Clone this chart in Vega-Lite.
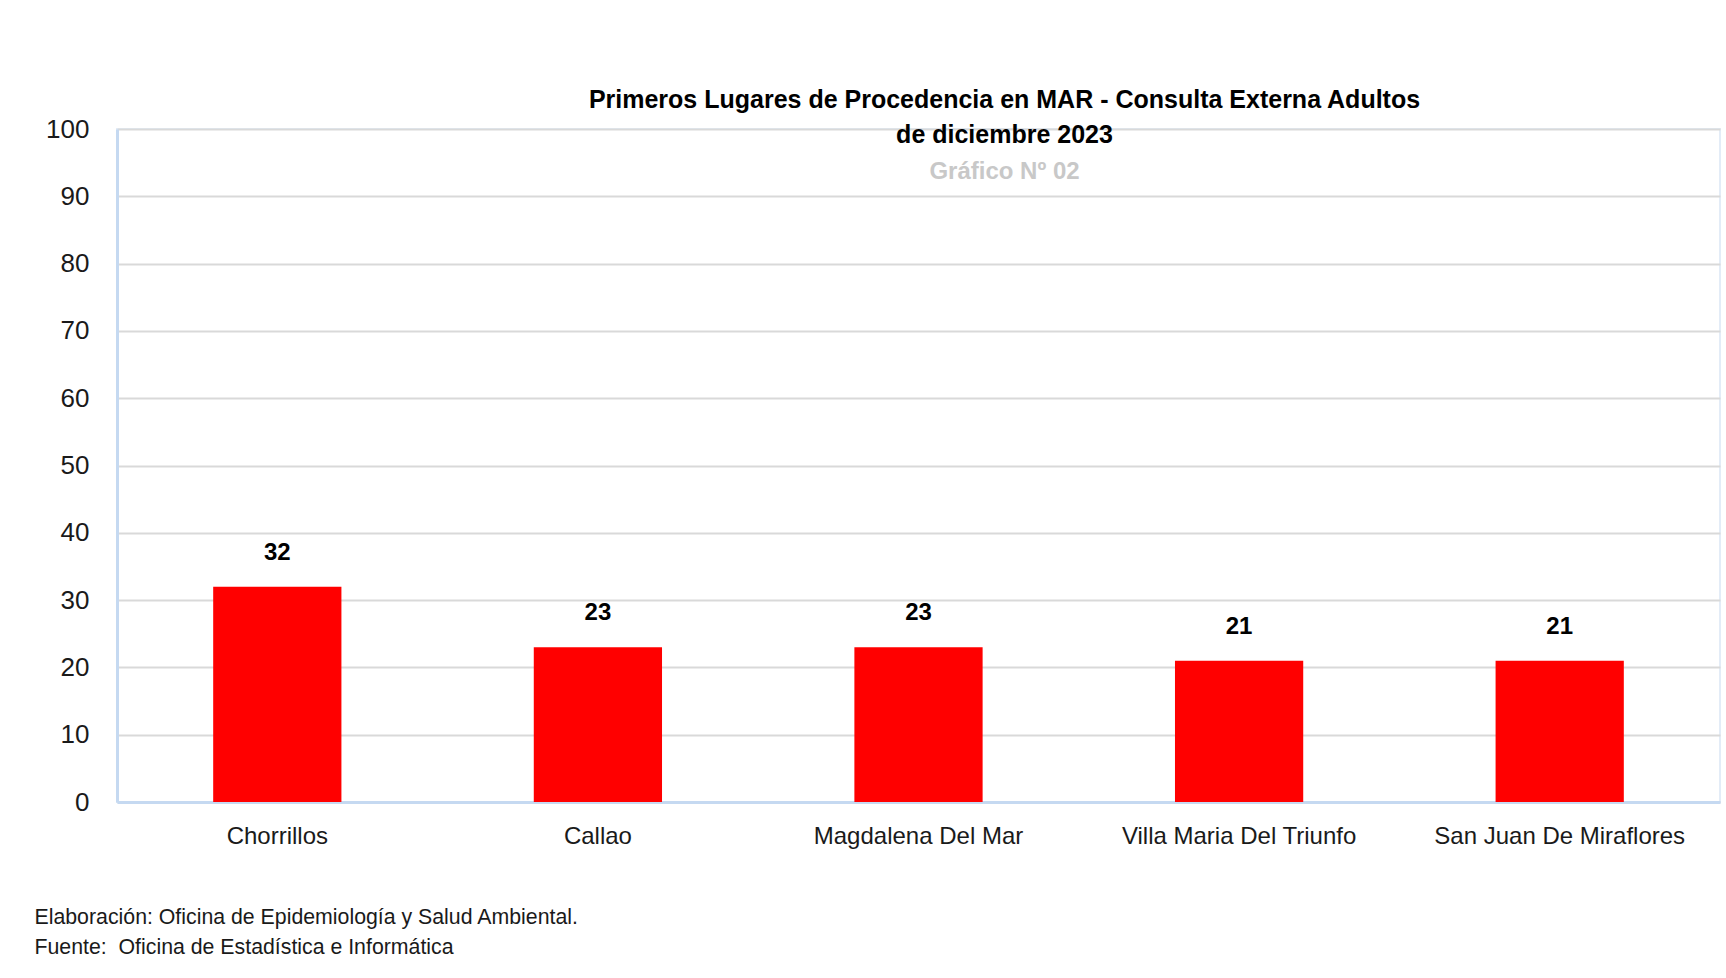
{
  "$schema": "https://vega.github.io/schema/vega-lite/v6.json",
  "width": 1603,
  "height": 673,
  "autosize": {"type": "none"},
  "padding": {"left": 117, "top": 129, "right": 6, "bottom": 176},
  "background": "white",
  "data": {
    "values": [
      {"lugar": "Chorrillos", "valor": 32},
      {"lugar": "Callao", "valor": 23},
      {"lugar": "Magdalena Del Mar", "valor": 23},
      {"lugar": "Villa Maria Del Triunfo", "valor": 21},
      {"lugar": "San Juan De Miraflores", "valor": 21}
    ]
  },
  "title": {
    "text": ["Primeros Lugares de Procedencia en MAR - Consulta Externa Adultos", "de diciembre 2023"],
    "subtitle": "Gráfico Nº 02",
    "anchor": "middle",
    "dx": 86,
    "font": "Liberation Sans",
    "fontSize": 25,
    "fontWeight": "bold",
    "color": "#000000",
    "lineHeight": 35,
    "subtitleFont": "Liberation Sans",
    "subtitleFontSize": 24,
    "subtitleFontWeight": "bold",
    "subtitleColor": "#c8c8c8",
    "subtitlePadding": 12,
    "offset": -68
  },
  "layer": [
    {
      "mark": {"type": "bar", "color": "#ff0000"},
      "encoding": {
        "x": {
          "field": "lugar",
          "type": "nominal",
          "sort": null,
          "scale": {"paddingInner": 0.6, "paddingOuter": 0.3},
          "axis": {
            "labelAngle": 0,
            "labelLimit": 0,
            "labelFont": "Liberation Sans",
            "labelFontSize": 24,
            "labelColor": "#1a1a1a",
            "labelPadding": 22,
            "ticks": false,
            "domainColor": "#c5d9f1",
            "domainWidth": 3,
            "title": ["Elaboración: Oficina de Epidemiología y Salud Ambiental.", "Fuente: \u00a0Oficina de Estadística e Informática"],
            "titleFont": "Liberation Sans",
            "titleFontSize": 21.3,
            "titleFontWeight": "normal",
            "titleColor": "#1a1a1a",
            "titleAnchor": "start",
            "titleAlign": "left",
            "titleBaseline": "top",
            "titleX": -83,
            "titleY": 104,
            "titleLineHeight": 30
          }
        },
        "y": {
          "field": "valor",
          "type": "quantitative",
          "scale": {"domain": [0, 100]},
          "axis": {
            "values": [0, 10, 20, 30, 40, 50, 60, 70, 80, 90, 100],
            "labelFont": "Liberation Sans",
            "labelFontSize": 26,
            "labelColor": "#1a1a1a",
            "labelPadding": 28,
            "ticks": false,
            "domainColor": "#c5d9f1",
            "domainWidth": 3,
            "gridColor": "#d9d9d9",
            "gridWidth": 2,
            "title": null
          }
        }
      }
    },
    {
      "mark": {"type": "text", "dy": -34, "baseline": "middle", "font": "Liberation Sans", "fontSize": 24, "fontWeight": "bold", "color": "#000000"},
      "encoding": {
        "x": {"field": "lugar", "type": "nominal", "sort": null},
        "y": {"field": "valor", "type": "quantitative"},
        "text": {"field": "valor", "type": "quantitative"}
      }
    }
  ],
  "config": {
    "view": {"stroke": "#e3ecf7", "strokeWidth": 2}
  }
}
